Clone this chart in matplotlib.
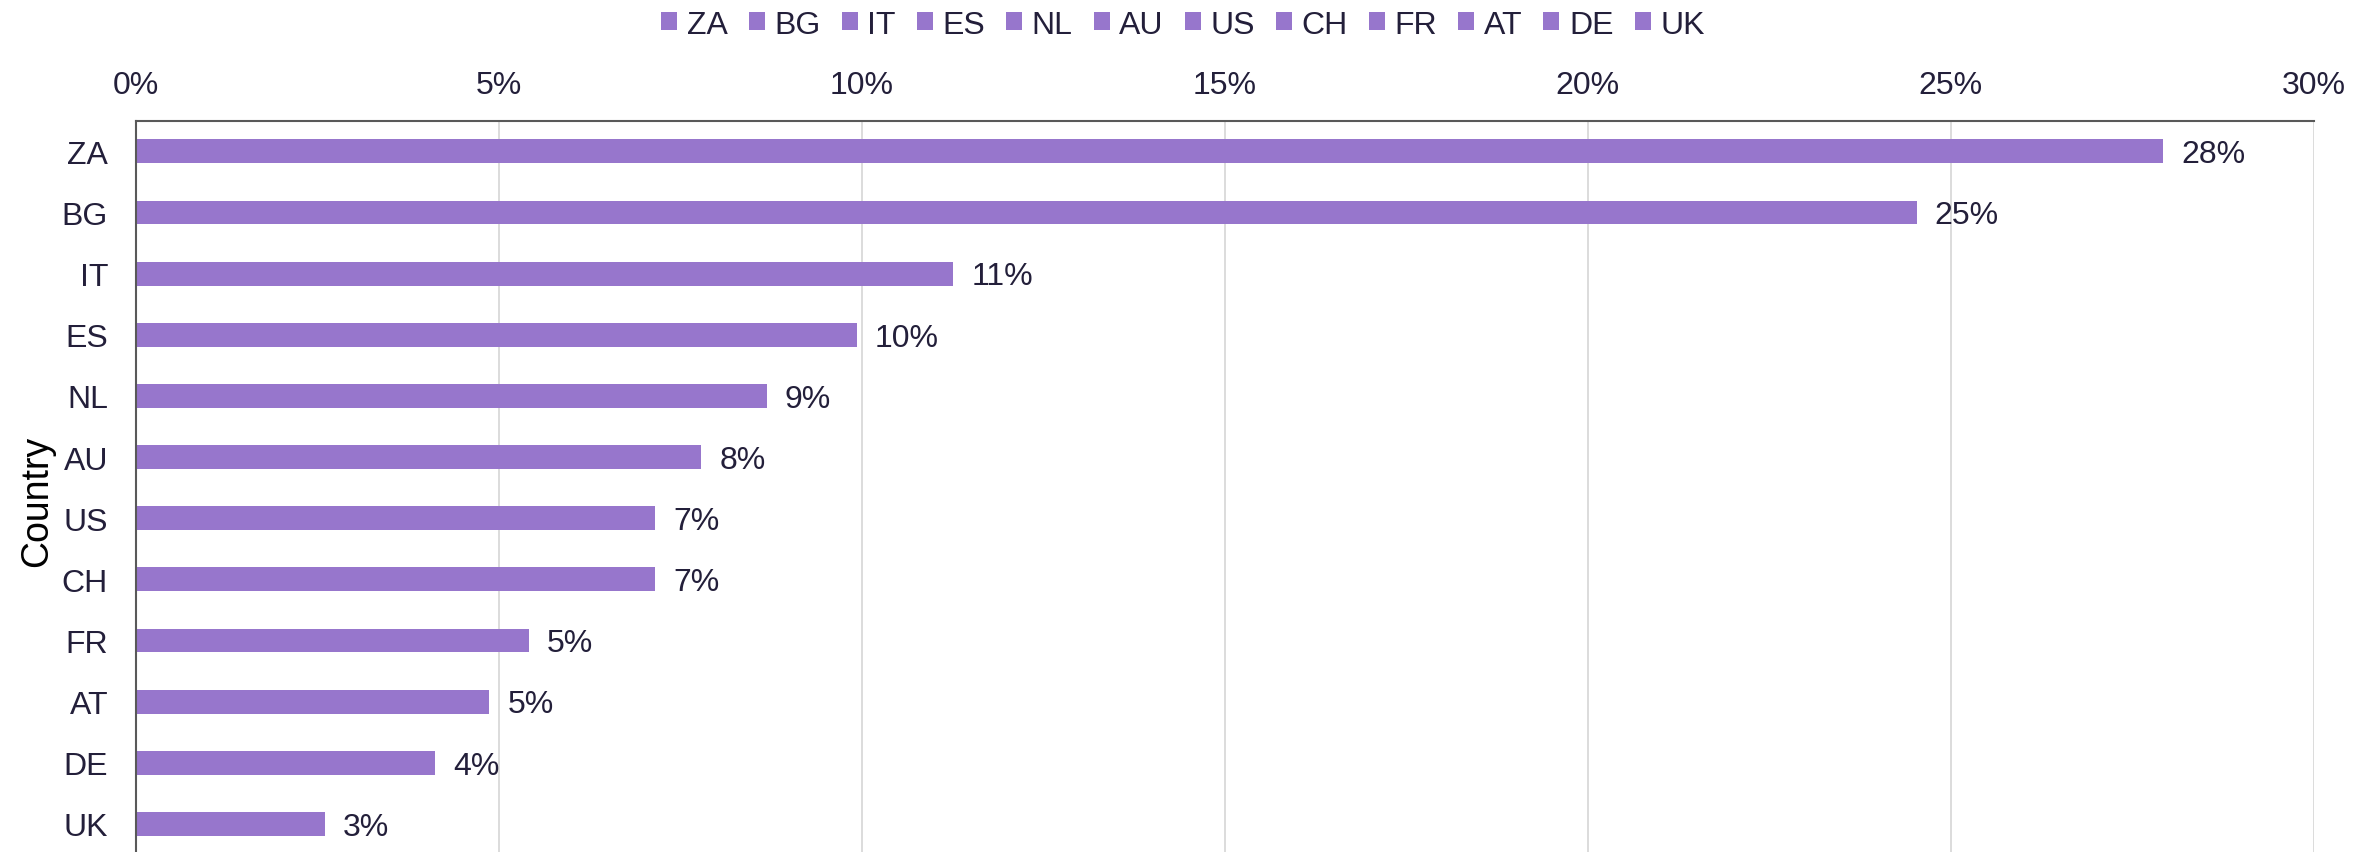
import matplotlib
matplotlib.use("Agg")
import matplotlib.pyplot as plt
from matplotlib.patches import Patch
from matplotlib.ticker import FuncFormatter

countries = ["ZA", "BG", "IT", "ES", "NL", "AU", "US", "CH", "FR", "AT", "DE", "UK"]
values = [27.92, 24.53, 11.26, 9.93, 8.69, 7.79, 7.15, 7.15, 5.41, 4.87, 4.12, 2.60]
xticks = [0, 5, 10, 15, 20, 25, 30]

BAR = "#9776CC"
TXT = "#231F3A"
FS = 23

plt.rcParams["font.family"] = ["Liberation Sans", "DejaVu Sans"]

fig = plt.figure(figsize=(23.8, 8.53), dpi=100)
ax = fig.add_axes([0.0571, -0.0029, 0.9151, 0.8602])

ypos = list(range(len(countries)))
ax.barh(ypos, values, height=0.39, color=BAR, zorder=3)
ax.set_ylim(len(countries) - 0.5, -0.5)
ax.set_xlim(xticks[0], xticks[-1])
ax.set_yticks(ypos)
ax.set_yticklabels(countries)
ax.set_xticks(xticks)
ax.xaxis.set_major_formatter(FuncFormatter(lambda v, p: f"{v:.0f}%"))
ax.xaxis.tick_top()
ax.tick_params(axis="x", length=0, pad=15, labelsize=FS, labelcolor=TXT)
ax.tick_params(axis="y", length=0, pad=20, labelsize=FS, labelcolor=TXT)
ax.grid(axis="x", color="#D9D9D9", linewidth=1.3, zorder=0)
ax.grid(axis="y", visible=False)
for s in ["right", "bottom"]:
    ax.spines[s].set_visible(False)
for s in ["top", "left"]:
    ax.spines[s].set_color("#595959")
    ax.spines[s].set_linewidth(1.5)
    ax.spines[s].set_zorder(4)

for y, v in zip(ypos, values):
    ax.annotate(f"{v:.0f}%", xy=(v, y), xytext=(13, -2), textcoords="offset points",
                ha="left", va="center", fontsize=FS, color=TXT)

ax.set_ylabel("Country", fontsize=27, color="black")
ax.yaxis.set_label_coords(-0.037, 0.483)

handles = [Patch(facecolor=BAR, edgecolor="none", label=c) for c in countries]
fig.legend(handles=handles, loc="center", bbox_to_anchor=(0.497, 0.97), ncol=len(countries),
           frameon=False, fontsize=FS, handlelength=0.5, handleheight=0.5,
           handletextpad=0.3, columnspacing=0.66, labelcolor=TXT)

fig.savefig("out.png", dpi=100)
